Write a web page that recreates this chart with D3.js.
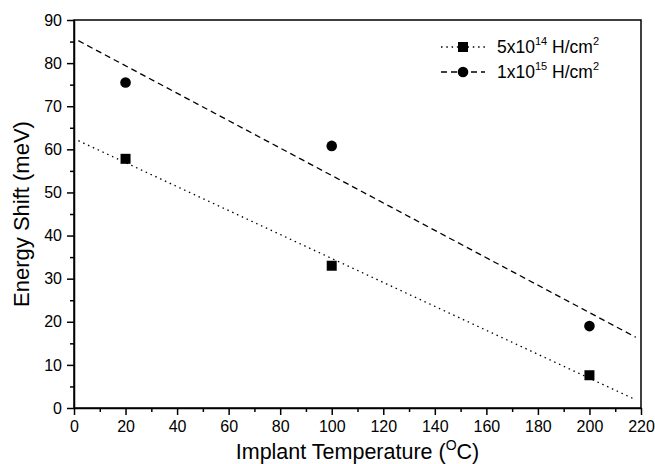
<!DOCTYPE html>
<html lang="en">
<head>
<meta charset="UTF-8"/>
<title>Energy Shift vs Implant Temperature</title>
<script src="https://d3js.org/d3.v7.min.js"></script>
<style>
	body { margin: 0; background: #fff; }
	svg text { font-family: "Liberation Sans", Arial, Helvetica, sans-serif; fill: #000; }
	.axis path, .axis line { stroke: #000; stroke-width: 1.5; }
	.fit { fill: none; stroke: #000; stroke-width: 1.3; }
</style>
</head>
<body>
<div id="chart"></div>
<script>
var w = 655, h = 464;
var margin = {top: 20, right: 14, bottom: 56, left: 74};

// measured points
var tempLow = [20, 100, 200];
var shiftLow = [57.8, 33, 7.6];      // 5x10^14 H/cm2
var tempHigh = [20, 100, 200];
var shiftHigh = [75.5, 60.8, 19];    // 1x10^15 H/cm2

// fitted lines, end points
var fitLowX = [1.7, 218];
var fitLowY = [62, 1.9];
var fitHighX = [1.7, 218];
var fitHighY = [85.2, 16.4];

var xTicks = d3.range(0, 221, 20);
var yTicks = d3.range(0, 91, 10);

var svg = d3.select("#chart").append("svg")
	.attr("width", w)
	.attr("height", h);

var xScale = d3.scaleLinear().domain([0, 220]).range([margin.left, w - margin.right]);
var yScale = d3.scaleLinear().domain([0, 90]).range([h - margin.bottom, margin.top]);

// frame
svg.append("rect")
	.attr("x", xScale(0))
	.attr("y", yScale(90))
	.attr("width", xScale(220) - xScale(0))
	.attr("height", yScale(0) - yScale(90))
	.attr("fill", "none")
	.attr("stroke", "#000")
	.attr("stroke-width", 1.5);

// minor ticks
svg.append("g")
	.attr("class", "axis")
	.attr("transform", "translate(0," + yScale(0) + ")")
	.call(d3.axisBottom(xScale).tickValues(d3.range(10, 220, 20)).tickSize(4).tickFormat(""))
	.call(function(g){ g.select(".domain").remove(); });
svg.append("g")
	.attr("class", "axis")
	.attr("transform", "translate(" + xScale(0) + ",0)")
	.call(d3.axisLeft(yScale).tickValues(d3.range(5, 90, 10)).tickSize(4).tickFormat(""))
	.call(function(g){ g.select(".domain").remove(); });

var xAxis = svg.append("g")
	.attr("class", "axis")
	.attr("transform", "translate(0," + yScale(0) + ")")
	.call(d3.axisBottom(xScale).tickValues(xTicks).tickSize(7).tickSizeOuter(0).tickPadding(6));
xAxis.selectAll("text").attr("font-size", 16);

var yAxis = svg.append("g")
	.attr("class", "axis")
	.attr("transform", "translate(" + xScale(0) + ",0)")
	.call(d3.axisLeft(yScale).tickValues(yTicks).tickSize(7).tickSizeOuter(0).tickPadding(5));
yAxis.selectAll("text").attr("font-size", 16);

// fitted lines
var line = d3.line()
	.x(function(d){ return xScale(d[0]); })
	.y(function(d){ return yScale(d[1]); });

svg.append("path")
	.datum(d3.zip(fitLowX, fitLowY))
	.attr("class", "fit")
	.attr("stroke-dasharray", "1.5,3.8")
	.attr("d", line);

svg.append("path")
	.datum(d3.zip(fitHighX, fitHighY))
	.attr("class", "fit")
	.attr("stroke-dasharray", "6,4")
	.attr("d", line);

// markers
svg.selectAll(".sq")
	.data(d3.zip(tempLow, shiftLow))
	.enter().append("rect")
	.attr("class", "sq")
	.attr("x", function(d){ return xScale(d[0]) - 5; })
	.attr("y", function(d){ return yScale(d[1]) - 5; })
	.attr("width", 10)
	.attr("height", 10)
	.attr("fill", "#000");

svg.selectAll(".dot")
	.data(d3.zip(tempHigh, shiftHigh))
	.enter().append("circle")
	.attr("class", "dot")
	.attr("cx", function(d){ return xScale(d[0]); })
	.attr("cy", function(d){ return yScale(d[1]); })
	.attr("r", 5.3)
	.attr("fill", "#000");

// axis titles
var xt = svg.append("text")
	.attr("x", (xScale(0) + xScale(220)) / 2)
	.attr("y", 459)
	.attr("text-anchor", "middle")
	.attr("font-size", 21.5);
xt.append("tspan").text("Implant Temperature (");
xt.append("tspan").attr("dy", -9).attr("font-size", 14).text("O");
xt.append("tspan").attr("dy", 9).text("C)");

svg.append("text")
	.attr("transform", "translate(29," + (yScale(45)) + ") rotate(-90)")
	.attr("text-anchor", "middle")
	.attr("font-size", 22)
	.text("Energy Shift (meV)");

// legend
var legend = [
	{dash: "1.5,3.8", shape: "sq", base: "5x10", exp: "14"},
	{dash: "6,4", shape: "dot", base: "1x10", exp: "15"}
];
var lg = svg.selectAll(".lg")
	.data(legend)
	.enter().append("g")
	.attr("class", "lg")
	.attr("transform", function(d, i){ return "translate(441," + (47 + i * 25) + ")"; });

lg.append("line")
	.attr("x1", 0).attr("x2", 44)
	.attr("stroke", "#000").attr("stroke-width", 1.3)
	.attr("stroke-dasharray", function(d){ return d.dash; });
lg.filter(function(d){ return d.shape == "sq"; })
	.append("rect")
	.attr("x", 17).attr("y", -5).attr("width", 10).attr("height", 10);
lg.filter(function(d){ return d.shape == "dot"; })
	.append("circle")
	.attr("cx", 22).attr("r", 5.3);

var lt = lg.append("text")
	.attr("x", 56)
	.attr("y", 6)
	.attr("font-size", 17.5);
lt.append("tspan").text(function(d){ return d.base; });
lt.append("tspan").attr("dy", -8).attr("font-size", 11).text(function(d){ return d.exp; });
lt.append("tspan").attr("dy", 8).text(" H/cm");
lt.append("tspan").attr("dy", -8).attr("font-size", 11).text("2");
</script>
</body>
</html>
